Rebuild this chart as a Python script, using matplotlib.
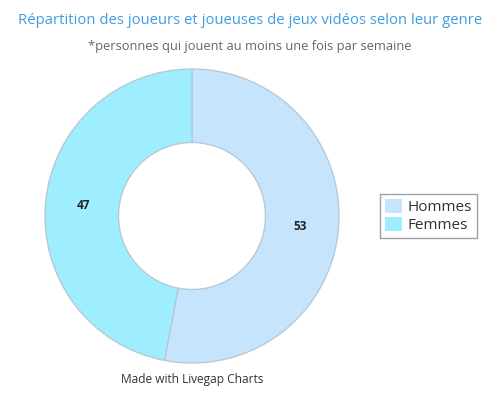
import matplotlib
matplotlib.use("Agg")
import matplotlib.pyplot as plt

categories = ["Hommes", "Femmes"]
values = [53, 47]
colors = ["#c6e5fd", "#9eeeff"]

title = "Répartition des joueurs et joueuses de jeux vidéos selon leur genre"
subtitle = "*personnes qui jouent au moins une fois par semaine"
credit = "Made with Livegap Charts"

plt.rcParams['font.family'] = ['Open Sans', 'DejaVu Sans']

fig = plt.figure(figsize=(5, 4), dpi=100)
fig.patch.set_facecolor("white")
ax = fig.add_axes([0.09, 0.0925, 0.588, 0.735])

wedges, texts, autotexts = ax.pie(
    values, colors=colors, startangle=90, counterclock=False,
    radius=1.0,
    wedgeprops=dict(width=0.5, edgecolor="#b8c9d6", linewidth=1.0),
    autopct=lambda p: f"{p * sum(values) / 100:.0f}", pctdistance=0.74,
    textprops=dict(fontsize=8.5, fontweight="bold", color="#222222"),
)
ax.set_xlim(-1.0, 1.0)
ax.set_ylim(-1.0, 1.0)
ax.set_aspect("equal")

fig.text(0.5, 0.950, title, ha="center", va="center", fontsize=10.75, color="#3d9ee0")
fig.text(0.5, 0.883, subtitle, ha="center", va="center", fontsize=9.3, color="#666666")
fig.text(0.384, 0.05, credit, ha="center", va="center", fontsize=8.6, color="#333333")

leg = fig.legend(wedges, categories, loc="center", bbox_to_anchor=(0.857, 0.46),
                 fontsize=11, frameon=True, fancybox=False, handlelength=1.1,
                 handleheight=1.1, handletextpad=0.4, borderpad=0.3, labelspacing=0.1,
                 borderaxespad=0)
leg.get_frame().set_edgecolor("#888888")
leg.get_frame().set_linewidth(1.0)
for h in leg.legend_handles:
    h.set_edgecolor("none")
for t in leg.get_texts():
    t.set_color("#333333")

fig.savefig("out.png", dpi=100)
